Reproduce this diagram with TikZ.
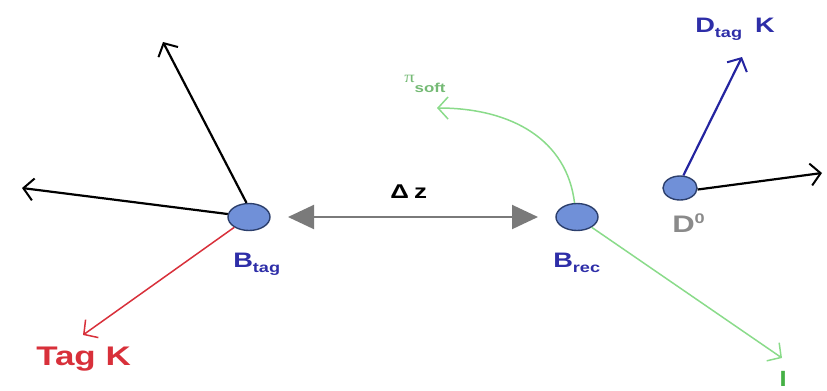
\documentclass[tikz,border=0pt]{standalone}
\usepackage{fontspec}
\setmainfont{Liberation Sans}
\newfontfamily\greekserif{Liberation Serif}
\usetikzlibrary{arrows.meta,shapes.geometric}
\definecolor{vtxfill}{HTML}{7090D8}
\definecolor{vtxedge}{HTML}{2C3F6C}
\definecolor{lblblue}{HTML}{2E2EA8}
\definecolor{tagred}{HTML}{D8303A}
\definecolor{softgreen}{HTML}{8ADB8A}
\definecolor{lgreen}{HTML}{45B045}
\definecolor{arrblue}{HTML}{2424A0}
\definecolor{dzgray}{HTML}{7A7A7A}
\definecolor{dgray}{HTML}{8A8A8A}
\newcommand\sbs[1]{\raisebox{-5bp}{\fontsize{14}{14}\selectfont #1}}
\begin{document}
\begin{tikzpicture}[x=1bp,y=-1bp,
  vtx/.style={ellipse, draw=vtxedge, fill=vtxfill, line width=1.4bp, inner sep=0},
  lbl/.style={inner sep=0, xscale=1.3, font=\bfseries\fontsize{21}{24}\selectfont},
  track/.style={line width=2.2bp, -{Straight Barb[length=10bp,width=22bp,line width=2bp]}},
  thin track/.style={line width=1.5bp, -{Straight Barb[length=10bp,width=22bp,line width=1.5bp]}},
  dz/.style={line width=2bp, dzgray, {Triangle[length=26bp,width=24bp]}-{Triangle[length=26bp,width=24bp]}}
]
\useasboundingbox (0,0) rectangle (827,390);
% vertices
\node[vtx, minimum width=42bp, minimum height=27bp] (btag) at (249,217) {};
\node[vtx, minimum width=42bp, minimum height=27bp] (brec) at (577,217) {};
\node[vtx, minimum width=34bp, minimum height=24bp] (dzero) at (680,188) {};
% free ends
\coordinate (ulend) at (163,42);
\coordinate (lend) at (22,188);
\coordinate (kend) at (83,335);
\coordinate (dzl) at (288,217);
\coordinate (dzr) at (538,217);
\coordinate (softend) at (437,108);
\coordinate (lepend) at (782,358);
\coordinate (dkend) at (742,57);
\coordinate (rend) at (822,173);
% Btag tracks
\draw[track, black] (btag.100) -- (ulend);
\draw[track, black] (btag.172) -- (lend);
\draw[thin track, tagred] (btag.215) -- (kend);
% delta z
\draw[dz] (dzl) -- (dzr);
% Brec tracks
\draw[thin track, softgreen] (brec.100) .. controls (567,140) and (512,108) .. (softend);
\draw[thin track, softgreen] (brec.-35) -- (lepend);
% D0 tracks
\draw[track, arrblue] (dzero.75) -- (dkend);
\draw[track, black] (dzero.-5) -- (rend);
% labels
\node[lbl, tagred, anchor=base west, font=\bfseries\fontsize{27}{30}\selectfont] (tagk) at (36,365) {Tag K};
\node[lbl, lblblue, anchor=base west] (btaglbl) at (233,267) {B\sbs{tag}};
\node[lbl, lblblue, anchor=base west] (breclbl) at (553,267) {B\sbs{rec}};
\node[lbl, lblblue, anchor=base west] (dtaglbl) at (695,32) {D\sbs{tag}\hspace{10bp}K};
\node[lbl, dgray, anchor=base west, font=\bfseries\fontsize{24}{26}\selectfont] (d0lbl) at (672,232) {D\raisebox{9bp}{\fontsize{14}{14}\selectfont 0}};
\node[lbl, black, anchor=base west, font=\bfseries\fontsize{20}{22}\selectfont] (dzlbl) at (390,198) {Δ\hspace{4bp}z};
\node[lbl, softgreen!85!black, anchor=base west, font=\fontsize{16}{18}\selectfont] (softlbl) at (404,82) {{\greekserif π}\raisebox{-10bp}{\bfseries\fontsize{13}{13}\selectfont soft}};
\node[lbl, lgreen, anchor=base west] (llbl) at (779,386) {l};
\end{tikzpicture}
\end{document}
